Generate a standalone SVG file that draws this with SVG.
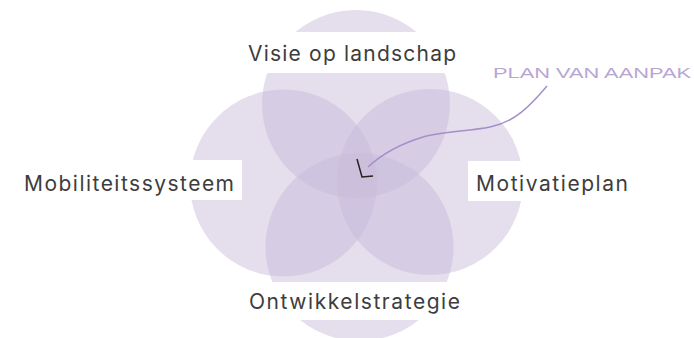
<svg xmlns="http://www.w3.org/2000/svg" width="694" height="338" viewBox="0 0 694 338">
  <style>
    .c { fill: rgb(199,186,217); fill-opacity: 0.48; }
    .box { fill: #ffffff; }
    .lbl { font-family: Inter, "Liberation Sans", sans-serif; font-size: 21px; fill: #3d3d3d; }
    .hand { font-family: "Liberation Sans", sans-serif; font-size: 14px; fill: #b8a5d4; }
    .conn { fill: none; stroke: #a58fc8; stroke-width: 1.5; }
    .tip { fill: none; stroke: #222222; stroke-width: 1.5; }
  </style>
  <rect width="694" height="338" fill="#ffffff"/>
  <g id="circles">
    <circle class="c" cx="356" cy="104" r="94"/>
    <circle class="c" cx="283.5" cy="183" r="93.5"/>
    <circle class="c" cx="430" cy="182" r="93"/>
    <circle class="c" cx="359.5" cy="247" r="94"/>
  </g>
  <g id="node-visie">
    <rect class="box" x="240" y="32" width="226" height="41"/>
    <text class="lbl" x="248" y="61" textLength="208" lengthAdjust="spacing">Visie op landschap</text>
  </g>
  <g id="node-mobiliteit">
    <rect class="box" x="15" y="160" width="227" height="40"/>
    <text class="lbl" x="24" y="191" textLength="210" lengthAdjust="spacing">Mobiliteitssysteem</text>
  </g>
  <g id="node-motivatie">
    <rect class="box" x="468" y="161" width="172" height="40"/>
    <text class="lbl" x="476" y="191" textLength="152" lengthAdjust="spacing">Motivatieplan</text>
  </g>
  <g id="node-ontwikkel">
    <rect class="box" x="240" y="282" width="230" height="38"/>
    <text class="lbl" x="249" y="309" textLength="211" lengthAdjust="spacing">Ontwikkelstrategie</text>
  </g>
  <g id="node-plan">
    <text class="hand" x="493" y="78" textLength="198" lengthAdjust="spacingAndGlyphs">PLAN VAN AANPAK</text>
  </g>
  <g id="connectors">
    <path class="conn" d="M547,86 C530,106 515,122 490,127 C470,131 440,132 423,137 C400,144 382,154 368,167"/>
    <polyline class="tip" points="357,159 362,177 373,176"/>
  </g>
</svg>
